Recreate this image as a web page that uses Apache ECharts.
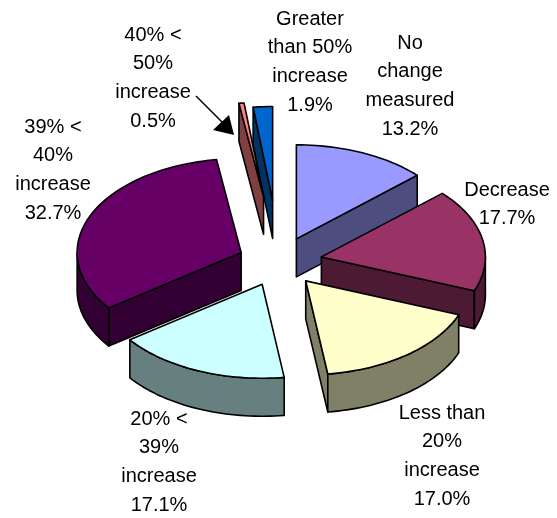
<!DOCTYPE html>
<html>
<head>
<meta charset="utf-8">
<style>html,body{margin:0;padding:0;background:#fff}#chart{width:557px;height:518px}</style>
<script src="https://cdn.jsdelivr.net/npm/echarts@6/dist/echarts.min.js"></script>
</head>
<body>
<div id="chart"></div>
<script>
// Share of measurements by change band, clockwise from 12 o'clock.
const categories = ['No\nchange\nmeasured', 'Decrease', 'Less than\n20%\nincrease', '20% <\n39%\nincrease', '39% <\n40%\nincrease', '40% <\n50%\nincrease', 'Greater\nthan 50%\nincrease'];
const shares = [13.2, 17.7, 17.0, 17.1, 32.7, 0.5, 1.9];
const topColors = ['#9999FF', '#993366', '#FFFFCC', '#CCFFFF', '#660066', '#FF8080', '#0066CC'];
const wallColors = ['#4D4D80', '#4D1A33', '#808066', '#668080', '#330033', '#804040', '#003366'];
const explosions = [0.263, 0.263, 0.263, 0.263, 0.25, 0.70, 0.65];
const labelAnchors = [[410, 29], [507, 176], [442, 399], [159, 405], [53, 113], [153, 21], [310, 5]];
const paintOrder = [6, 5, 0, 1, 4, 2, 3];

// Projection of the tilted pie onto the page.
const pie = { cx: 279, cy: 261.5, rx: 164, ry: 94, depth: 38 };
const outline = { stroke: '#000', lineWidth: 1.6, lineJoin: 'round' };
const total = shares.reduce((a, b) => a + b, 0);

let sum = 0;
const spans = shares.map(v => {
  const start = sum / total * 2 * Math.PI;
  sum += v;
  return [start, sum / total * 2 * Math.PI];
});

function onRim(c, a) {
  return [c[0] + pie.rx * Math.sin(a), c[1] - pie.ry * Math.cos(a)];
}
function arcPoints(c, a0, a1) {
  const n = Math.max(2, Math.ceil((a1 - a0) / 0.03));
  const pts = [];
  for (let i = 0; i <= n; i++) pts.push(onRim(c, a0 + (a1 - a0) * i / n));
  return pts;
}
const down = p => [p[0], p[1] + pie.depth];
const poly = (points, fill) => ({
  type: 'polygon',
  shape: { points },
  style: Object.assign({ fill }, outline)
});

function renderSlice(params, api) {
  const i = api.value(0);
  const [a0, a1] = spans[i];
  const mid = (a0 + a1) / 2;
  const d = explosions[i];
  const c = [pie.cx + d * pie.rx * Math.sin(mid), pie.cy - d * pie.ry * Math.cos(mid)];
  const children = [];
  const wall = wallColors[i];

  // Cut faces that turn towards the viewer.
  if (Math.sin(a0) < 0) {
    const p = onRim(c, a0);
    children.push(poly([c, p, down(p), down(c)], wall));
  }
  if (Math.sin(a1) > 0) {
    const p = onRim(c, a1);
    children.push(poly([c, p, down(p), down(c)], wall));
  }
  // Outer rim, only on the near half of the ellipse.
  const lo = Math.max(a0, Math.PI / 2), hi = Math.min(a1, 3 * Math.PI / 2);
  if (hi > lo) {
    const rim = arcPoints(c, lo, hi);
    children.push(poly(rim.concat(rim.slice().reverse().map(down)), wall));
  }
  // Top face.
  children.push(poly([c].concat(arcPoints(c, a0, a1)), topColors[i]));
  return { type: 'group', children };
}

function renderLabel(params, api) {
  const i = api.value(0);
  return {
    type: 'text',
    x: labelAnchors[i][0],
    y: labelAnchors[i][1],
    style: {
      text: categories[i] + '\n' + shares[i].toFixed(1) + '%',
      fill: '#000',
      font: '20px "Liberation Sans", Arial, sans-serif',
      lineHeight: 28.6,
      align: 'center',
      verticalAlign: 'top'
    }
  };
}

const chart = echarts.init(document.getElementById('chart'), null, { renderer: 'canvas' });
chart.setOption({
  animation: false,
  backgroundColor: '#fff',
  series: [
    { type: 'custom', coordinateSystem: 'none', silent: true, clip: false, renderItem: renderSlice,
      data: paintOrder.map(i => [i]) },
    { type: 'custom', coordinateSystem: 'none', silent: true, clip: false, renderItem: renderLabel, z: 3,
      data: categories.map((c, i) => [i]) }
  ],
  graphic: [
    { type: 'line', z: 5, shape: { x1: 196, y1: 96, x2: 222, y2: 122 }, style: { stroke: '#000', lineWidth: 1.5 } },
    { type: 'polygon', z: 5, shape: { points: [[234, 135], [213, 130], [229, 115]] }, style: { fill: '#000' } }
  ]
});
</script>
</body>
</html>
